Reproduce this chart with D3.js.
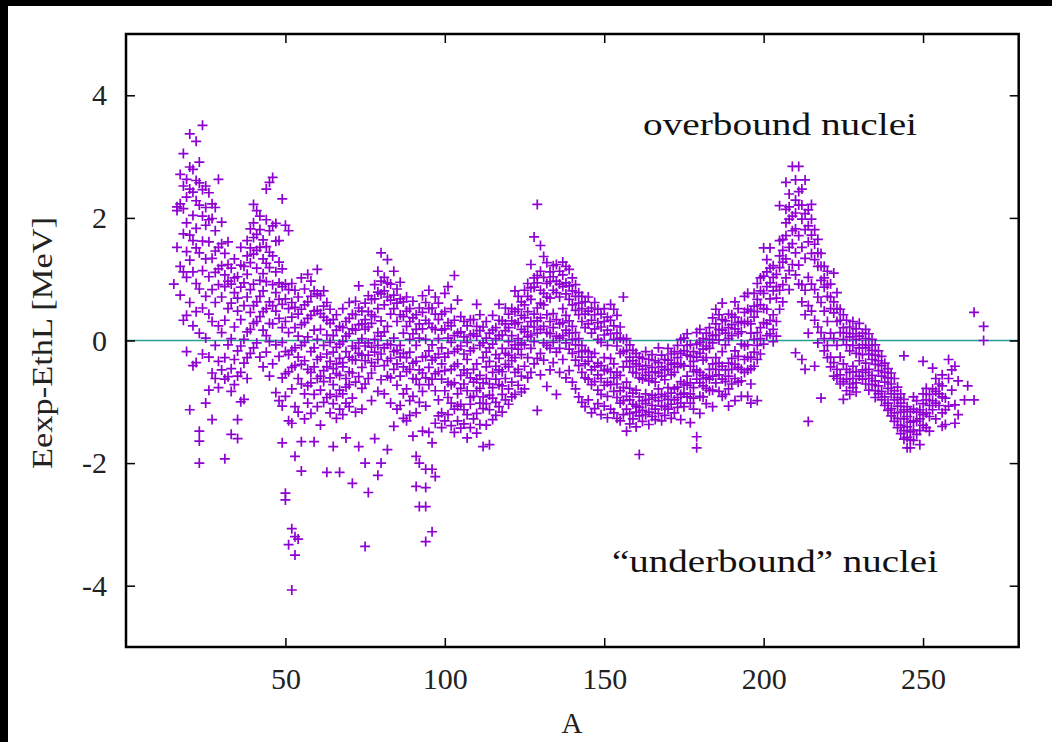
<!DOCTYPE html>
<html>
<head>
<meta charset="utf-8">
<script src="https://cdn.jsdelivr.net/npm/d3@7"></script>
<style>
html,body{margin:0;padding:0;background:#000;}
svg{display:block;}
</style>
</head>
<body>
<svg id="chart" width="1052" height="742"></svg>
<script>
// ---- data: each row = [mass number A, deviations Eexp-EthL (MeV) of the isobars] ----
const rowsLight = [
 [15,0.92],[16,2.18,2.12,1.52],[17,0.74,2.71,2.23,1.21],[18,3.05,2.52,2.15,1.74,1.12,0.33],
 [19,2.63,2.34,1.92,1.45,1.03,0.41,-0.18],[20,3.37,2.83,2.47,1.72,1.31,0.62,-1.13],
 [21,2.79,2.42,2.04,1.63,1.12,0.24,-0.41],[22,3.25,2.61,2.28,1.83,1.51,0.93,0.47,-0.36],
 [23,2.91,2.57,2.21,1.43,0.84,0.12,-1.48,-1.64,-2.0],[24,3.51,2.46,2.03,1.62,1.14,0.53,-0.22],
 [25,2.52,2.17,1.88,1.33,0.72,0.04,-1.02],[26,2.41,1.97,1.61,1.04,0.43,-0.27,-0.81],
 [27,2.23,1.99,1.34,0.83,0.31,-0.53,-1.29],[28,2.17,1.79,1.46,1.11,0.62,-0.08,-0.62],
 [29,2.63,1.52,1.17,0.91,0.24,-0.34,-0.77],[30,1.93,1.58,1.22,0.71,0.13,-0.48],
 [31,1.42,1.07,0.88,0.33,-0.28,-0.63,-1.93],[32,1.61,1.24,0.97,0.52,-0.07,-0.59],
 [33,1.18,0.92,0.61,0.03,-0.46,-0.83,-1.53],[34,1.33,1.02,0.78,0.22,-0.31,-0.72],
 [35,1.04,0.69,0.48,-0.17,-0.58,-1.29,-1.6],[36,1.52,1.23,0.87,0.34,-0.09,-0.52,-1.0],
 [37,1.21,0.94,0.57,0.02,-0.37,-0.96],[38,1.63,1.38,1.08,0.71,0.14,-0.28,-0.62],
 [39,1.82,1.51,1.27,0.83,0.46,0.18,-0.21],[40,2.22,1.92,1.68,1.41,0.92,0.57,0.28,-0.12],
 [41,2.12,1.73,1.47,1.18,0.63,0.31,-0.04],[42,2.03,1.81,1.52,0.98,0.72,0.39,-0.27],
 [43,1.64,1.33,1.09,0.81,0.47,0.17,-0.43],[44,2.47,1.97,1.53,1.26,0.96,0.52,0.08,-0.19],
 [45,2.58,1.79,1.44,1.19,0.63,0.28,-0.02,-0.58],[46,2.66,1.87,1.38,0.91,0.57,0.27,-0.38],
 [47,1.91,1.62,1.12,0.78,0.48,-0.07,-0.85],[48,1.63,1.28,0.94,0.67,0.36,-0.26,-0.98],
 [49,2.31,1.17,0.88,0.59,0.21,-0.03,-0.61,-1.07,-1.67],
 [50,1.88,0.92,0.68,0.31,-0.18,-0.54,-0.91,-2.49,-2.6],
 [51,1.79,0.83,0.52,0.13,-0.23,-0.51,-1.31,-3.33],
 [52,0.93,0.62,0.38,-0.16,-0.44,-0.79,-1.35,-3.07,-4.07],
 [53,0.82,0.54,0.21,-0.12,-0.41,-1.08,-1.89,-3.2,-3.5],
 [54,0.71,0.43,0.07,-0.27,-0.62,-1.17,-3.24],[55,1.02,0.51,0.26,-0.08,-0.39,-0.71,-1.65,-2.13],
 [56,0.84,0.58,0.29,-0.03,-0.33,-0.87,-1.28],[57,1.08,0.63,0.36,0.06,-0.47,-0.74,-1.02],
 [58,0.97,0.72,0.41,-0.18,-0.52,-0.69,-1.19],[59,0.81,0.48,0.17,-0.12,-0.43,-0.88,-1.65],
 [60,1.16,0.76,0.49,0.02,-0.31,-0.62,-1.08]
];
const rowsMedium = [
 [61,0.73,0.44,0.18,-0.27,-0.58,-0.81,-1.38],[62,0.81,0.56,0.38,-0.08,-0.49,-0.67,-1.01],
 [63,0.62,0.33,0.09,-0.22,-0.43,-0.93,-2.15],[64,0.51,0.28,-0.03,-0.34,-0.61,-0.88,-1.18],
 [65,0.34,0.08,-0.19,-0.46,-0.72,-1.03,-1.73],[66,0.42,0.17,-0.11,-0.38,-0.54,-0.91,-1.27],
 [67,0.23,-0.06,-0.29,-0.57,-0.81,-1.12,-2.15],[68,0.52,0.21,-0.02,-0.36,-0.43,-0.87,-1.21],
 [69,0.31,0.07,-0.18,-0.62,-0.76,-1.02,-1.59],[70,0.62,0.36,0.11,-0.27,-0.51,-0.72,-1.08],
 [71,0.43,0.19,-0.09,-0.31,-0.53,-0.94,-2.33],[72,0.64,0.42,0.17,-0.13,-0.32,-0.68,-1.17],
 [73,0.89,0.53,0.26,-0.04,-0.21,-0.59,-1.73],[74,0.48,0.27,0.03,-0.24,-0.44,-0.78,-1.12],
 [75,0.61,0.34,0.18,-0.09,-0.33,-0.71,-2.0,-3.36],[76,0.73,0.47,0.22,-0.04,-0.24,-0.62,-2.48],
 [77,0.67,0.42,0.28,-0.11,-0.36,-0.53,-0.98],[78,0.91,0.68,0.39,0.02,-0.19,-0.42,-1.6],
 [79,1.13,0.79,0.52,0.13,-0.08,-0.31,-0.83,-2.2],[80,1.43,0.97,0.76,0.32,0.07,-0.22,-0.64,-2.0],
 [81,1.03,0.81,0.58,0.14,-0.12,-0.41,-0.87],[82,1.32,0.94,0.71,0.23,-0.06,-0.33,-0.58,-1.78],
 [83,0.92,0.66,0.43,-0.07,-0.29,-0.61,-1.02],[84,1.13,0.74,0.52,0.04,-0.18,-0.47,-1.4],
 [85,0.84,0.61,0.31,-0.16,-0.38,-0.73,-1.12],[86,0.95,0.68,0.42,-0.08,-0.27,-0.58,-1.06],
 [87,0.63,0.39,0.12,-0.21,-0.43,-0.87,-1.27],[88,0.71,0.48,0.23,-0.28,-0.51,-0.79,-1.31],
 [89,0.52,0.31,0.02,-0.19,-0.47,-0.98,-1.22],[90,0.64,0.37,0.11,-0.37,-0.62,-0.91,-1.56],
 [91,0.42,0.18,-0.08,-0.34,-0.63,-1.18,-1.89,-2.38],[92,0.53,0.27,0.04,-0.48,-0.72,-1.01,-2.0,-2.71],
 [93,0.73,0.46,0.19,-0.27,-0.53,-0.83,-1.48],
 [94,0.62,0.33,0.02,-0.26,-0.61,-1.07,-2.1,-2.4,-2.71,-3.28],
 [95,0.82,0.52,0.28,-0.17,-0.44,-0.72,-1.5],[96,0.53,0.21,-0.07,-0.32,-0.63,-1.67,-2.1,-3.12],
 [97,0.71,0.43,0.18,-0.28,-0.54,-0.82,-1.35,-2.22],[98,0.61,0.34,0.03,-0.22,-0.51,-0.97,-1.23],
 [99,0.43,0.17,-0.12,-0.38,-0.63,-1.18,-1.42],[100,0.77,0.47,0.19,-0.27,-0.49,-0.82,-1.31],
 [101,0.88,0.29,0.04,-0.21,-0.68,-0.93,-1.21],[102,0.52,0.24,-0.03,-0.47,-0.72,-1.02,-1.39],
 [103,1.06,0.33,0.08,-0.18,-0.42,-0.69,-1.12,-1.5],[104,0.66,0.12,-0.14,-0.38,-0.87,-1.07,-1.31],
 [105,0.39,0.14,-0.09,-0.57,-0.78,-1.04,-1.43],[106,0.31,0.06,-0.22,-0.48,-0.71,-1.13,-1.36],
 [107,0.24,-0.03,-0.31,-0.53,-0.82,-1.21,-1.59],[108,0.34,0.09,-0.17,-0.61,-0.93,-1.04,-1.42],
 [109,0.34,0.11,-0.13,-0.47,-0.68,-0.91,-1.28],[110,0.59,0.23,0.07,-0.38,-0.63,-0.82,-1.19,-1.51],
 [111,0.42,0.16,-0.08,-0.57,-0.78,-1.02,-1.37],[112,0.22,-0.04,-0.28,-0.69,-0.92,-1.11,-1.73],
 [113,0.31,0.04,-0.19,-0.43,-0.62,-1.03,-1.38],[114,0.12,-0.12,-0.34,-0.71,-0.89,-1.13,-1.7],
 [115,0.41,0.17,-0.06,-0.52,-0.77,-0.94,-1.29],[116,0.21,0.03,-0.23,-0.42,-0.63,-1.01,-1.22],
 [117,0.59,0.33,0.08,-0.29,-0.48,-0.72,-1.08],[118,0.32,0.09,-0.13,-0.51,-0.74,-0.88,-1.17],
 [119,0.53,0.27,0.16,-0.21,-0.39,-0.62,-0.97],[120,0.43,0.21,-0.02,-0.24,-0.43,-0.79,-1.04]
];
const rowsHeavy = [
 [121,0.52,0.32,0.08,-0.13,-0.33,-0.68,-0.92],[122,0.81,0.47,0.27,-0.07,-0.28,-0.52,-0.88],
 [123,0.72,0.51,0.29,0.03,-0.14,-0.47,-0.73],[124,0.63,0.41,0.18,-0.04,-0.23,-0.58,-0.84],
 [125,0.82,0.58,0.37,0.14,-0.07,-0.42,-0.79],[126,0.93,0.72,0.47,0.23,0.06,-0.28,-0.61],
 [127,1.24,0.86,0.67,0.31,0.09,-0.13,-0.52],[128,1.69,1.02,0.87,0.43,0.22,-0.02,-0.38],
 [129,2.22,1.06,0.94,0.53,0.32,0.12,-0.29,-1.14],[130,1.55,1.13,0.82,0.61,0.37,0.18,-0.21,-0.56],
 [131,1.37,1.03,0.77,0.58,0.23,-0.04,-0.32],[132,1.27,0.93,0.71,0.42,0.13,-0.08,-0.75],
 [133,1.12,0.96,0.69,0.31,0.11,-0.13,-0.48],[134,1.22,1.04,0.82,0.44,0.21,-0.03,-0.36],
 [135,1.24,0.97,0.78,0.34,0.07,-0.19,-0.88],[136,1.13,0.92,0.71,0.27,0.04,-0.13,-0.52],
 [137,1.28,1.07,0.88,0.52,0.29,0.08,-0.31],[138,1.21,0.94,0.76,0.41,0.17,-0.04,-0.61],
 [139,1.16,0.89,0.67,0.32,0.12,-0.14,-0.49],[140,1.02,0.81,0.58,0.23,0.02,-0.21,-0.68],
 [141,0.91,0.72,0.49,0.13,-0.07,-0.32,-0.79],[142,0.78,0.61,0.42,0.03,-0.18,-0.41,-0.92],
 [143,0.72,0.52,0.31,-0.08,-0.27,-0.52,-1.01],[144,0.63,0.43,0.21,-0.16,-0.38,-0.61,-1.08],
 [145,0.71,0.48,0.27,-0.18,-0.34,-0.63,-0.97],[146,0.53,0.33,0.12,-0.27,-0.48,-0.72,-1.18],
 [147,0.62,0.42,0.19,-0.21,-0.43,-0.67,-1.11],[148,0.51,0.29,0.02,-0.37,-0.56,-0.81,-1.03],
 [149,0.43,0.22,-0.03,-0.41,-0.62,-0.88,-1.21],[150,0.52,0.31,0.09,-0.28,-0.49,-0.73,-1.07],
 [151,0.38,0.17,-0.08,-0.47,-0.68,-0.91,-1.26],[152,0.59,0.33,0.11,-0.29,-0.51,-0.72,-1.12],
 [153,0.51,0.24,0.02,-0.38,-0.61,-0.83,-1.18],[154,0.41,0.12,-0.09,-0.52,-0.71,-0.93,-1.27],
 [155,0.22,0.04,-0.21,-0.57,-0.82,-1.02,-1.31],[156,0.71,0.02,-0.18,-0.43,-0.77,-0.98,-1.21],
 [157,0.03,-0.16,-0.34,-0.68,-0.91,-1.12,-1.48],[158,-0.07,-0.27,-0.43,-0.78,-0.97,-1.19,-1.36],
 [159,-0.16,-0.33,-0.52,-0.86,-1.04,-1.28],[160,-0.21,-0.38,-0.53,-0.81,-1.07,-1.17,-1.41],
 [161,-0.27,-0.42,-0.61,-0.92,-1.09,-1.23,-1.86],[162,-0.29,-0.47,-0.63,-0.98,-1.14,-1.32],
 [163,-0.18,-0.41,-0.57,-0.87,-1.03,-1.21],[164,-0.31,-0.52,-0.66,-0.96,-1.17,-1.37],
 [165,-0.23,-0.44,-0.62,-0.89,-1.06,-1.24],[166,-0.33,-0.51,-0.68,-0.93,-1.12,-1.29],
 [167,-0.12,-0.36,-0.53,-0.79,-0.98,-1.19],[168,-0.24,-0.43,-0.58,-0.88,-1.07,-1.31],
 [169,-0.31,-0.48,-0.64,-0.91,-1.08,-1.22],[170,-0.13,-0.32,-0.47,-0.77,-0.96,-1.12],
 [171,-0.22,-0.39,-0.56,-0.86,-1.04,-1.27],[172,-0.18,-0.37,-0.52,-0.79,-0.97,-1.18],
 [173,-0.08,-0.28,-0.43,-0.76,-0.93,-1.09],[174,0.02,-0.21,-0.38,-0.67,-0.88,-1.02,-1.29],
 [175,0.04,-0.17,-0.41,-0.71,-0.86,-1.08],[176,0.11,-0.08,-0.24,-0.58,-0.73,-0.92],
 [177,-0.07,-0.26,-0.42,-0.69,-0.87,-1.02,-1.34],[178,-0.18,-0.34,-0.51,-0.77,-0.94,-1.12],
 [179,0.13,-0.06,-0.27,-0.48,-0.63,-1.57,-1.75],[180,0.18,-0.03,-0.21,-0.52,-0.69,-0.91,-1.19]
];
const rowsActinide = [
 [181,0.03,-0.14,-0.32,-0.57,-0.74,-0.92],[182,0.12,-0.09,-0.28,-0.61,-0.78,-1.03],
 [183,0.21,0.02,-0.13,-0.47,-0.63,-0.82],[184,0.37,0.08,-0.04,-0.38,-0.58,-0.81,-1.08],
 [185,0.51,0.27,0.09,-0.28,-0.47,-0.69],[186,0.42,0.18,0.01,-0.37,-0.56,-0.83],
 [187,0.61,0.34,0.17,-0.18,-0.42,-0.63,-0.91],[188,0.32,0.12,-0.07,-0.48,-0.67,-0.88],
 [189,0.43,0.21,0.03,-0.37,-0.58,-0.79,-1.07],[190,0.42,0.26,0.08,-0.29,-0.47,-0.71],
 [191,0.63,0.38,0.19,-0.17,-0.39,-0.62,-0.98],[192,0.52,0.29,0.11,-0.26,-0.44,-0.68],
 [193,0.31,0.14,-0.06,-0.47,-0.66,-0.91],[194,0.72,0.46,0.28,-0.09,-0.31,-0.52],
 [195,0.77,0.51,0.31,-0.07,-0.27,-0.48,-0.91],[196,0.48,0.27,0.12,-0.28,-0.46,-0.71,-1.02],
 [197,0.77,0.56,0.38,0.02,-0.19,-0.42],[198,0.93,0.67,0.47,0.13,-0.08,-0.31,-0.98],
 [199,1.02,0.81,0.58,0.21,0.03,-0.22],[200,1.51,1.05,0.77,0.52,0.29,-0.06],
 [201,1.32,1.12,0.88,0.51,0.27,0.08],[202,1.51,1.18,0.94,0.68,0.33,0.11],
 [203,1.22,1.03,0.81,0.42,0.18,-0.02],[204,1.08,0.88,0.69,0.31,0.07],
 [205,2.2,1.63,1.38,1.19,0.82,0.51],[206,1.65,1.47,1.28,0.91,0.63],
 [207,2.58,2.14,1.92,1.71,1.33,1.02],[208,2.39,2.18,1.98,1.52,1.14,0.83],
 [209,2.84,2.03,1.79,1.58,1.24],[210,2.62,2.29,2.08,1.82,1.43,1.07,-0.2],
 [211,2.84,2.43,2.21,1.71,1.23,0.92],[212,2.47,2.21,1.98,1.52,0.91,0.63,-0.31],
 [213,2.62,2.07,1.81,1.34,0.82,0.42,-0.47],[214,2.13,1.87,1.61,1.03,0.57,0.12,-1.32],
 [215,2.22,1.98,1.72,1.42,0.92,0.48],[216,1.81,1.57,1.32,0.83,0.33,-0.42],
 [217,1.65,1.43,1.21,0.71,0.22,-0.04],[218,1.42,1.21,0.98,0.62,0.13,-0.94],
 [219,1.21,1.02,0.87,0.48,0.03,-0.17],[220,1.13,0.91,0.72,0.31,-0.08,-0.28],
 [221,0.92,0.71,0.52,0.12,-0.27,-0.43],[222,1.1,0.63,0.45,0.03,-0.36,-0.58],
 [223,0.78,0.52,0.31,-0.08,-0.47,-0.62],[224,0.51,0.33,0.13,-0.27,-0.56,-0.71],
 [225,0.42,0.21,0.02,-0.38,-0.67,-0.96],[226,0.33,0.12,-0.07,-0.47,-0.63,-0.82],
 [227,0.22,0.06,-0.17,-0.52,-0.71,-0.88],[228,0.31,0.11,-0.08,-0.42,-0.62,-0.77],
 [229,0.19,0.02,-0.21,-0.51,-0.69,-0.84],[230,0.28,0.07,-0.12,-0.33,-0.58]
];
const rowsSuperheavy = [
 [231,0.12,-0.07,-0.23,-0.48,-0.63],[232,0.18,0.03,-0.12,-0.37,-0.52,-0.71],
 [233,0.11,-0.08,-0.22,-0.47,-0.62,-0.81],[234,0.02,-0.16,-0.31,-0.57,-0.72],
 [235,-0.07,-0.24,-0.39,-0.66,-0.82,-0.93],[236,-0.17,-0.33,-0.49,-0.74,-0.87],
 [237,-0.26,-0.41,-0.58,-0.83,-0.97],[238,-0.37,-0.52,-0.68,-0.92,-1.06],
 [239,-0.46,-0.61,-0.78,-1.02,-1.14],[240,-0.53,-0.71,-0.87,-1.11,-1.23],
 [241,-0.62,-0.82,-0.97,-1.18,-1.32],[242,-0.76,-0.93,-1.07,-1.27,-1.42],
 [243,-0.87,-1.02,-1.17,-1.38,-1.52],[244,-0.25,-0.96,-1.13,-1.28,-1.47,-1.61],
 [245,-1.08,-1.24,-1.41,-1.58,-1.75],[246,-1.16,-1.33,-1.49,-1.62,-1.75],
 [247,-0.92,-1.12,-1.31,-1.46,-1.63],[248,-0.98,-1.17,-1.32,-1.53],
 [249,-1.13,-1.28,-1.47,-1.7],[250,-0.34,-0.87,-1.03,-1.21,-1.38],
 [251,-0.78,-0.97,-1.18,-1.42],[252,-0.88,-1.06,-1.24,-1.48],[253,-0.45,-0.79,-0.98,-1.13],
 [254,-0.62,-0.83,-1.02,-1.28],[255,-0.71,-0.87,-1.06],[256,-0.56,-0.74,-0.92,-1.18,-1.4],
 [257,-0.94,-1.13,-1.37],[258,-0.31,-0.62,-1.07],[259,-0.48,-0.81],[260,-0.42,-1.05,-1.35],
 [261,-0.66,-1.21],[263,-0.97],[264,-0.74],[266,0.46,-0.97],[269,0.0,0.23]
];
const xTicks = [50,100,150,200,250];
const yTicks = [-4,-2,0,2,4];
const xLabel = "A";
const yLabel = "Eexp-EthL [MeV]";
const noteOver = "overbound nuclei";
const noteUnder = "\u201Cunderbound\u201D nuclei";

// ---- flatten rows into points ----
const points = [];
[rowsLight, rowsMedium, rowsHeavy, rowsActinide, rowsSuperheavy].forEach(rows => {
  rows.forEach(r => { for (let i = 1; i < r.length; i++) points.push({A: r[0], dE: r[i]}); });
});

const svg = d3.select("#chart");
svg.append("rect").attr("x",8).attr("y",6).attr("width",1044).attr("height",736).attr("fill","#fff");

const L = 126, R = 1018.7, T = 34, B = 647;
const x = d3.scaleLinear().domain([0,280]).range([L,R]);
const y = d3.scaleLinear().domain([-5,5]).range([B,T]);
const serif = "'Liberation Serif','Times New Roman',serif";

// zero line
svg.append("line").attr("x1",L).attr("x2",R).attr("y1",y(0)).attr("y2",y(0))
  .attr("stroke","#2a9d95").attr("stroke-width",1.5);

// points
const s = 5;
const g = svg.append("g").attr("stroke","#8f00d2").attr("stroke-width",1.7);
g.selectAll("path").data(points).join("path")
  .attr("d", d => { const px = x(d.A), py = y(d.dE);
    return `M${px-s},${py}H${px+s}M${px},${py-s}V${py+s}`; });

// axes
const fmt = d => String(d);
function styleAxis(sel){
  sel.select(".domain").remove();
  sel.selectAll(".tick line").attr("stroke","#000").attr("stroke-width",1.5);
  sel.selectAll(".tick text").attr("font-family",serif).attr("font-size",30).attr("fill","#222");
}
svg.append("g").attr("transform",`translate(0,${B})`)
  .call(d3.axisBottom(x).tickValues(xTicks).tickSize(-9).tickPadding(21).tickFormat(fmt))
  .call(styleAxis);
svg.append("g").attr("transform",`translate(0,${T})`)
  .call(d3.axisTop(x).tickValues(xTicks).tickSize(-9).tickFormat(""))
  .call(styleAxis);
svg.append("g").attr("transform",`translate(${L},0)`)
  .call(d3.axisLeft(y).tickValues(yTicks).tickSize(-9).tickPadding(19).tickFormat(fmt))
  .call(styleAxis);
svg.append("g").attr("transform",`translate(${R},0)`)
  .call(d3.axisRight(y).tickValues(yTicks).tickSize(-9).tickFormat(""))
  .call(styleAxis);

// frame
svg.append("rect").attr("x",L).attr("y",T).attr("width",R-L).attr("height",B-T)
  .attr("fill","none").attr("stroke","#000").attr("stroke-width",2.5);

// labels
svg.append("text").attr("x",572).attr("y",733).attr("text-anchor","middle")
  .attr("font-family",serif).attr("font-size",29).attr("fill","#222").text(xLabel);
svg.append("text").attr("transform","translate(52,343) rotate(-90)").attr("text-anchor","middle")
  .attr("font-family",serif).attr("font-size",29).attr("fill","#222")
  .attr("textLength",252).attr("lengthAdjust","spacingAndGlyphs").text(yLabel);
svg.append("text").attr("x",643).attr("y",135).attr("font-family",serif).attr("font-size",32)
  .attr("fill","#111").attr("textLength",274).attr("lengthAdjust","spacingAndGlyphs").text(noteOver);
svg.append("text").attr("x",612).attr("y",572).attr("font-family",serif).attr("font-size",32)
  .attr("fill","#111").attr("textLength",326).attr("lengthAdjust","spacingAndGlyphs").text(noteUnder);
</script>
</body>
</html>
